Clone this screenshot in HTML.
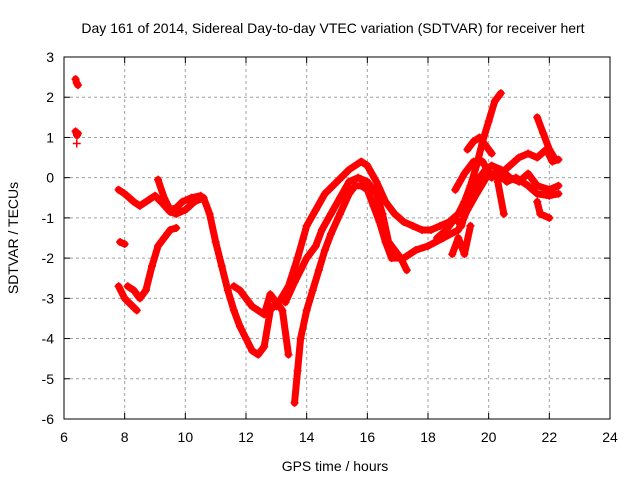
<!DOCTYPE html>
<html><head><meta charset="utf-8"><style>
body{margin:0;background:#fff}
svg text{font-family:"Liberation Sans",sans-serif;font-size:14px;fill:#000}
</style></head><body>
<svg id="chart" width="640" height="480" viewBox="0 0 640 480" xmlns="http://www.w3.org/2000/svg">
<rect width="640" height="480" fill="#fff"/>
<text x="333" y="33" text-anchor="middle">Day 161 of 2014, Sidereal Day-to-day VTEC variation (SDTVAR) for receiver hert</text>
<g id="grid"></g><g id="series"></g><g id="axes"></g>
<text x="335" y="471" text-anchor="middle">GPS time / hours</text>
<text transform="translate(18,238) rotate(-90)" text-anchor="middle">SDTVAR / TECUs</text>
</svg>
<script>
const xTicks=[6,8,10,12,14,16,18,20,22,24];
const yTicks=[3,2,1,0,-1,-2,-3,-4,-5,-6];
const sEarly1=[[6.38,2.45],[6.42,2.35],[6.46,2.3]];
const sEarly2=[[6.38,1.15],[6.43,1.05],[6.46,1.1]];
const sEarly3=[[6.42,0.85]];
const sIso=[[7.85,-1.6],[8.0,-1.65]];
const s1=[[7.8,-0.3],[8.0,-0.4],[8.3,-0.6],[8.5,-0.7],[8.8,-0.55],[9.0,-0.45],[9.2,-0.6],[9.5,-0.85],[9.7,-0.9],[10.0,-0.8],[10.3,-0.6],[10.6,-0.5]];
const s2=[[9.1,-0.05],[9.3,-0.5],[9.5,-0.8],[9.7,-0.75],[9.9,-0.6],[10.2,-0.5],[10.5,-0.45]];
const s3=[[7.8,-2.7],[8.0,-3.0],[8.2,-3.15],[8.4,-3.3]];
const s4=[[8.1,-2.7],[8.3,-2.8],[8.5,-3.0],[8.7,-2.8],[8.9,-2.2],[9.1,-1.7],[9.3,-1.5],[9.5,-1.3],[9.7,-1.25]];
const s5=[[10.6,-0.5],[10.8,-0.9],[11.0,-1.6],[11.2,-2.2],[11.4,-2.8],[11.6,-3.3],[11.8,-3.7],[12.0,-4.0],[12.2,-4.3],[12.4,-4.4],[12.6,-4.2],[12.8,-3.3],[13.0,-3.1]];
const s6=[[11.6,-2.7],[11.8,-2.8],[12.0,-3.0],[12.2,-3.2],[12.4,-3.3],[12.6,-3.4],[12.8,-2.9],[13.0,-3.1],[13.2,-3.3],[13.4,-4.4]];
const s7=[[13.0,-3.2],[13.4,-2.7],[13.7,-2.0],[14.0,-1.2],[14.3,-0.8],[14.6,-0.4],[15.0,-0.1],[15.4,0.2],[15.8,0.4],[16.0,0.3],[16.3,-0.1],[16.6,-0.6],[16.9,-0.9],[17.2,-1.1],[17.5,-1.2],[17.8,-1.3],[18.1,-1.3],[18.4,-1.2],[18.7,-1.1],[19.0,-0.9],[19.2,-0.6],[19.4,-0.2],[19.6,0.3],[19.8,0.9],[20.0,1.4],[20.2,1.9],[20.4,2.1]];
const s8=[[13.3,-3.1],[13.6,-2.6],[13.8,-2.3],[14.0,-2.0],[14.3,-1.7],[14.5,-1.3],[14.8,-0.9],[15.1,-0.5],[15.4,-0.1],[15.7,0.0],[16.0,-0.1],[16.3,-0.4],[16.5,-0.9],[16.7,-1.6],[16.9,-1.8],[17.1,-2.0],[17.3,-2.3]];
const s9=[[13.6,-5.6],[13.7,-4.8],[13.8,-4.0],[14.0,-3.3],[14.2,-2.8],[14.4,-2.3],[14.6,-1.8],[14.8,-1.4],[15.1,-0.9],[15.4,-0.4],[15.6,-0.2],[15.8,-0.2],[16.0,-0.3],[16.2,-0.7],[16.4,-1.1],[16.6,-1.6],[16.8,-2.0],[17.2,-2.0],[17.6,-1.8],[18.0,-1.7],[18.5,-1.5],[19.0,-1.3],[19.3,-0.8],[19.6,-0.4],[20.0,0.1],[20.3,0.1],[20.6,-0.1],[20.9,0.0],[21.3,-0.2],[21.6,-0.4],[22.0,-0.45],[22.3,-0.4]];
const s10=[[18.9,-0.3],[19.2,0.1],[19.5,0.4],[19.8,0.4],[20.1,0.0],[20.4,0.1],[20.7,0.3],[21.0,0.5],[21.3,0.6],[21.6,0.5],[21.9,0.7],[22.1,0.4],[22.3,0.45]];
const s11=[[21.6,1.5],[21.8,1.1],[22.0,0.7],[22.2,0.45]];
const s12=[[20.3,-0.1],[20.5,-0.9]];
const s13=[[21.6,-0.6],[21.7,-0.9],[22.0,-1.0]];
const s14=[[18.8,-1.9],[19.0,-1.5],[19.2,-1.9],[19.4,-1.2]];
const s15=[[18.3,-1.5],[18.6,-1.3],[18.9,-1.0],[19.1,-1.2],[19.3,-0.7],[19.5,-0.3],[19.7,0.0],[19.9,0.2],[20.1,0.3],[20.4,0.2],[20.7,0.0],[21.0,-0.1],[21.3,0.1],[21.6,-0.2],[22.0,-0.3],[22.3,-0.2]];
const s16=[[19.3,0.7],[19.5,0.9],[19.7,1.0],[19.9,0.8],[20.1,0.6]];
const allSeries=[sEarly1,sEarly2,sEarly3,sIso,s1,s2,s3,s4,s5,s6,s7,s8,s9,s10,s11,s12,s13,s14,s15,s16];
const X0=64,X1=610,Y0=419,Y1=57;
const xs=v=>X0+(v-6)/18*(X1-X0);
const ys=v=>Y0-(v+6)/9*(Y0-Y1);
const NS="http://www.w3.org/2000/svg";
function mk(tag,attrs,parent){const e=document.createElementNS(NS,tag);for(const k in attrs)e.setAttribute(k,attrs[k]);parent.appendChild(e);return e;}
const grid=document.getElementById('grid'),axes=document.getElementById('axes'),ser=document.getElementById('series');
xTicks.forEach(t=>{const x=xs(t);
 if(t>6&&t<24){const l=mk('line',{x1:x,x2:x,y1:Y1,y2:Y0,stroke:'#a0a0a0','stroke-dasharray':'3,3'},grid);
 
 }
 mk('line',{x1:x,x2:x,y1:Y0,y2:Y0-6,stroke:'#000'},axes);mk('line',{x1:x,x2:x,y1:Y1,y2:Y1+6,stroke:'#000'},axes);
 const tx=mk('text',{x:x,y:Y0+23,'text-anchor':'middle'},axes);tx.textContent=t;
 
 });
yTicks.forEach(t=>{const y=ys(t);
 if(t>-6&&t<3){const l=mk('line',{x1:X0,x2:X1,y1:y,y2:y,stroke:'#a0a0a0','stroke-dasharray':'3,3'},grid);
 
 }
 mk('line',{x1:X0,x2:X0+6,y1:y,y2:y,stroke:'#000'},axes);mk('line',{x1:X1,x2:X1-6,y1:y,y2:y,stroke:'#000'},axes);
 const tx=mk('text',{x:X0-10,y:y+5,'text-anchor':'end'},axes);tx.textContent=t;
 
 });
const fr=mk('rect',{x:X0,y:Y1,width:X1-X0,height:Y0-Y1,fill:'none',stroke:'#000'},axes);


allSeries.forEach(s=>{
 const g=mk('g',{},ser);
 
 
 if(s.length>1)mk('polyline',{points:s.map(p=>xs(p[0])+','+ys(p[1])).join(' '),fill:'none',stroke:'#f00','stroke-width':7,'stroke-linejoin':'round','stroke-linecap':'round'},g);
 s.forEach(p=>{const x=xs(p[0]),y=ys(p[1]);
  const m=mk('path',{d:`M${x-4},${y}H${x+4}M${x},${y-4}V${y+4}`,stroke:'#f00','stroke-width':1.5},g);
  
  });
});
</script>
</body></html>
